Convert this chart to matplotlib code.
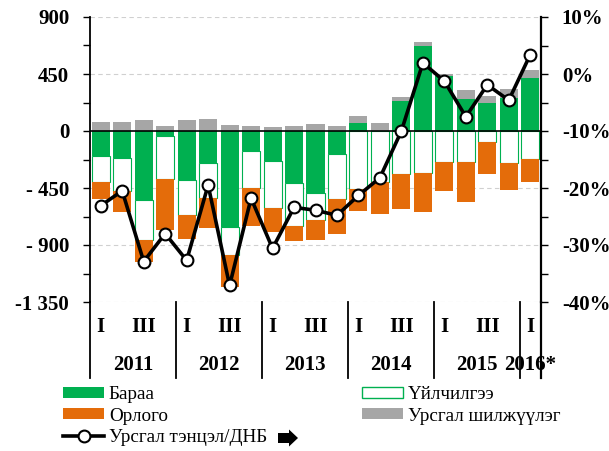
import matplotlib
matplotlib.use('Agg')
import matplotlib.pyplot as plt
import numpy as np
from matplotlib.lines import Line2D
from matplotlib.patches import Patch, FancyArrow
import matplotlib.transforms as mtransforms

# ---- data ----
years = ['2011', '2012', '2013', '2014', '2015', '2016*']
quarter_labels = ['I', '', 'III', '']
goods = [-197, -215, -546, -39, -386, -249, -756, -157, -239, -412, -493, -184,
         66, 0, 234, 669, 433, 249, 220, 262, 422]
services = [-204, -257, -312, -341, -278, -281, -220, -294, -370, -336, -210, -354,
            -454, -401, -336, -333, -241, -241, -87, -252, -223]
income = [-137, -171, -178, -399, -189, -236, -252, -299, -186, -118, -155, -275,
          -178, -255, -281, -305, -234, -318, -249, -212, -176]
transfers = [71, 71, 84, 37, 84, 92, 50, 37, 31, 37, 55, 42,
             55, 60, 36, 32, 18, 76, 56, 66, 56]
ca_gdp = [-23.1, -20.5, -32.9, -28.0, -32.7, -19.5, -37.1, -21.8, -30.6, -23.4, -23.9, -24.8,
          -21.3, -18.2, -10.0, 1.95, -1.25, -7.5, -1.9, -4.6, 3.4]
left_ticks = [900, 450, 0, -450, -900, -1350]
left_ticklabels = ['900', '450', '0', '- 450', '- 900', '-1 350']
right_ticks = [10, 0, -10, -20, -30, -40]
right_ticklabels = ['10%', '0%', '-10%', '-20%', '-30%', '-40%']
legend_labels = ['Бараа', 'Орлого', 'Урсгал тэнцэл/ДНБ', 'Үйлчилгээ', 'Урсгал шилжүүлэг']

GREEN = '#00B050'
ORANGE = '#E46C0A'
GRAY = '#A6A6A6'
SERIF = 'Liberation Serif'

n = len(goods)
x = np.arange(n)
W, H = 609, 451
fig = plt.figure(figsize=(W / 100, H / 100), dpi=100)
L, R, T, B = 90, 541, 17, 302
ax = fig.add_axes([L / W, 1 - B / H, (R - L) / W, (B - T) / H])

pos = np.zeros(n)
neg = np.zeros(n)
bw = 0.84


def stack(vals, **kw):
    global pos, neg
    v = np.array(vals, float)
    bottom = np.where(v >= 0, pos, neg)
    ax.bar(x, v, bottom=bottom, width=bw, zorder=2, **kw)
    pos = pos + np.where(v >= 0, v, 0)
    neg = neg + np.where(v < 0, v, 0)


stack(goods, color=GREEN, edgecolor='none')
stack(services, color='white', edgecolor=GREEN, linewidth=0.8)
stack(income, color=ORANGE, edgecolor='none')
stack(transfers, color=GRAY, edgecolor='none')

ax.set_xlim(-0.5, n - 0.5)
ax.set_ylim(-1350, 900)
ax.axhline(0, color='black', lw=1.2, zorder=3)
for t in [900, 450, -450, -900, -1350]:
    ax.axhline(t, color='#D0D0D0', lw=0.8, ls=(0, (4, 3)), zorder=0)

ax.set_yticks(left_ticks)
ax.set_yticklabels(left_ticklabels, fontfamily=SERIF, fontweight='bold', fontsize=15)
ax.set_yticks(np.arange(-1350, 901, 225), minor=True)
ax.tick_params(axis='y', which='both', direction='out', length=5, width=1, pad=10)
ax.set_xticks([])
for s in ['top', 'bottom', 'right']:
    ax.spines[s].set_visible(False)
ax.spines['left'].set_linewidth(1.3)

ax2 = ax.twinx()
ax2.set_ylim(-40, 10)
ax2.plot(x, ca_gdp, color='black', lw=2.6, marker='o', ms=8.5, mfc='white',
         mec='black', mew=1.5, zorder=5)
ax2.set_yticks(right_ticks)
ax2.set_yticklabels(right_ticklabels, fontfamily=SERIF, fontweight='bold', fontsize=15)
ax2.set_yticks(np.arange(-40, 10.1, 5), minor=True)
ax2.tick_params(axis='y', which='both', direction='out', length=5, width=1, pad=10)
for s in ['top', 'bottom', 'left']:
    ax2.spines[s].set_visible(False)
ax2.spines['right'].set_linewidth(1.6)
ax2.set_xlim(-0.5, n - 0.5)

# category axis (below plot)
trans = mtransforms.blended_transform_factory(ax.transData, fig.transFigure)
y_bot = 1 - B / H
y_line_end = 1 - 378 / H
for k in range(0, n + 1, 4):
    xb = k - 0.5
    ax.plot([xb, xb], [y_bot, y_line_end], transform=trans, color='black', lw=1.3, clip_on=False)
ax.plot([n - 0.5, n - 0.5], [y_bot, y_line_end], transform=trans, color='black', lw=1.6, clip_on=False)

for i in range(n):
    q = quarter_labels[i % 4]
    if q:
        ax.text(i, 1 - 327 / H, q, transform=trans, ha='center', va='center',
                fontfamily=SERIF, fontweight='bold', fontsize=15)
for j, yr in enumerate(years):
    start = 4 * j
    end = min(4 * j + 4, n)
    ax.text((start + end - 1) / 2, 1 - 365 / H, yr, transform=trans, ha='center', va='center',
            fontfamily=SERIF, fontweight='bold', fontsize=15)

# legends
fs = 13.8
h_goods = Patch(facecolor=GREEN, edgecolor='none')
h_income = Patch(facecolor=ORANGE, edgecolor='none')
h_line = Line2D([], [], color='black', lw=2.6, marker='o', ms=8.5, mfc='white', mec='black', mew=1.5)
h_serv = Patch(facecolor='white', edgecolor=GREEN, linewidth=1.0)
h_trans = Patch(facecolor=GRAY, edgecolor='none')
common = dict(frameon=False, borderpad=0, borderaxespad=0, handlelength=2.14, handleheight=0.52,
              handletextpad=0.25, labelspacing=0.24, prop={'family': SERIF, 'size': fs})
leg1 = fig.legend([h_goods, h_income, h_line], legend_labels[:3], loc='upper left',
                  bbox_to_anchor=(63 / W, 1 - 386 / H), **common)
leg2 = fig.legend([h_serv, h_trans], legend_labels[3:], loc='upper left',
                  bbox_to_anchor=(362 / W, 1 - 386 / H), **common)

# block arrow after the line legend entry
arrow = FancyArrow(278 / W, 1 - 438 / H, 20 / W, 0, width=10 / H, head_width=17 / H,
                   head_length=9 / W, length_includes_head=True,
                   transform=fig.transFigure, color='black', lw=0)
fig.patches.append(arrow)

fig.savefig('out.png', dpi=100)
